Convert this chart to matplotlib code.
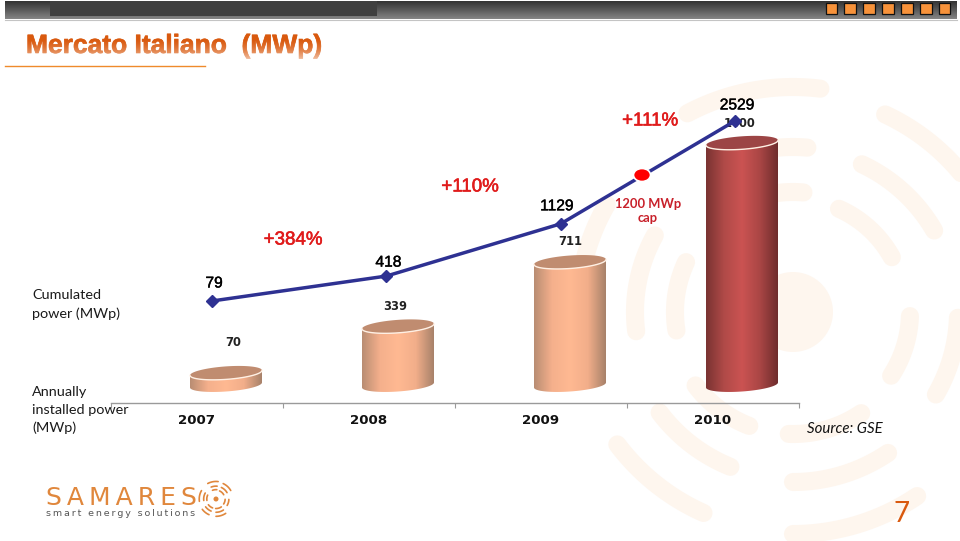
import numpy as np
import matplotlib
matplotlib.use("Agg")
import matplotlib.pyplot as plt
import matplotlib.patheffects as pe
from matplotlib.colors import LinearSegmentedColormap
from matplotlib.patches import Ellipse, PathPatch, Rectangle
from matplotlib.path import Path

years = ["2007", "2008", "2009", "2010"]
annual = [70, 339, 711, 1400]
cumulated = [79, 418, 1129, 2529]
growth = ["+384%", "+110%", "+111%"]
cap_label = "1200 MWp\ncap"

W, H = 960, 541
ORANGE = "#d9590e"
WATERMARK = "#fef6ee"
PEACH = ["#b98d73", "#f5b08c", "#ffb992", "#f2ae8a", "#a8826a"]
RED = ["#7a3332", "#b04a48", "#cb5352", "#aa4645", "#6f2d2d"]
PEACH_CAP = "#c08c70"
RED_CAP = "#9c4545"

# watermark arcs: radius, start and end angle, around the logo centre
wm_arcs = [
    (120, 85, 112), (165, 85, 112), (225, 83, 118),
    (113, 29, 66), (163, 30, 65), (218, 30, 65),
    (117, -33, -2), (165, -30, -2),
    (122, -92, -56), (170, -90, -56), (222, -90, -56),
    (122, -143, -111), (167, -143, -112), (220, -143, -114),
    (118, 155, 189), (158, 151, 187), (215, 150, 188),
]


def box(left, top, right, bottom):
    return [left / W, 1 - bottom / H, (right - left) / W, (bottom - top) / H]


def px_axes(zorder):
    a = fig.add_axes([0, 0, 1, 1], zorder=zorder)
    a.set_xlim(0, W)
    a.set_ylim(H, 0)
    a.axis("off")
    return a


def draw_arcs(a, cx, cy, scale, color, lw):
    for r, t0, t1 in wm_arcs:
        t = np.radians(np.linspace(t0, t1, 40))
        a.plot(cx + scale * r * np.cos(t), cy - scale * r * np.sin(t),
               color=color, lw=lw, solid_capstyle="round", clip_on=True)


def cylinder(a, cx, h, colors, cap):
    rx, ry, tilt = 36 / 172, 6.5 / 0.173, 2.5 / 0.173
    t = np.linspace(np.pi, 2 * np.pi, 60)
    low_x = cx + rx * np.cos(t)
    low_y = ry * np.sin(t) + tilt * np.cos(t)
    xs = np.r_[low_x, low_x[::-1]]
    ys = np.r_[low_y, h + low_y[::-1]]
    outline = Path(np.c_[xs, ys])
    clip = PathPatch(outline, fc="none", ec="none", transform=a.transData)
    a.add_patch(clip)
    cmap = LinearSegmentedColormap.from_list("c", colors)
    im = a.imshow(np.linspace(0, 1, 200)[None, :], cmap=cmap, aspect="auto",
                  extent=[cx - rx, cx + rx, -60, h + 60], zorder=2)
    im.set_clip_path(clip)
    # top face
    t = np.linspace(0, 2 * np.pi, 120)
    top = np.c_[cx + rx * np.cos(t), h + ry * np.sin(t) + tilt * np.cos(t)]
    a.add_patch(plt.Polygon(top, fc=cap, ec="none", zorder=3))
    a.plot(low_x, h + low_y, color="#fff0e4", lw=1.0, zorder=4)


fig = plt.figure(figsize=(W / 100, H / 100), dpi=100, facecolor="white")

# background watermark and slide furniture
bg = px_axes(0)
draw_arcs(bg, 793, 312, 1, WATERMARK, 13)
bg.add_patch(Ellipse((793, 312), 80, 80, fc=WATERMARK, ec="none"))
bar_grad = LinearSegmentedColormap.from_list("b", ["#333333", "#5a5a5a", "#858585"])
bg.imshow(np.linspace(0, 1, 50)[:, None], cmap=bar_grad, aspect="auto",
          extent=[5, 957, 19, 1])
bg.plot([5, 957], [19.5, 19.5], color="#c4c4c4", lw=0.8)
bg.add_patch(Rectangle((50, 1), 327, 15, fc="#3f3f3f", ec="none"))
for i in range(7):
    bg.add_patch(Rectangle((825.5 + 18.9 * i, 2.8), 11.5, 11.5, fc="#f7923a", ec="#111111", lw=0.9))
bg.set_xlim(0, W)
bg.set_ylim(H, 0)
bg.plot([5, 205], [66, 66], color="#ef8a2c", lw=1.0)

# annual installed power: cylinders
ax = fig.add_axes(box(111, 100, 799, 403), zorder=1)
ax.patch.set_alpha(0)
for i, v in enumerate(annual):
    if i == 3:
        cylinder(ax, i + 29 / 172, v, RED, RED_CAP)
    else:
        cylinder(ax, i + 29 / 172, v, PEACH, PEACH_CAP)
ax.set_xlim(-0.5, 3.5)
ax.set_ylim(-18 / 0.173, 285 / 0.173)
for s in ["top", "left", "right"]:
    ax.spines[s].set_visible(False)
ax.spines["bottom"].set_color("#9a9a9a")
ax.spines["bottom"].set_linewidth(1.0)
ax.set_yticks([])
ax.set_xticks(np.arange(-0.5, 4))
ax.set_xticklabels([])
ax.tick_params(axis="x", which="major", length=3.5, color="#9a9a9a", width=0.8)
ax.set_xticks(range(4), minor=True)
ax.set_xticklabels(years, minor=True, family="DejaVu Sans", weight="bold", fontsize=9.6, color="#111111")
ax.tick_params(axis="x", which="minor", length=0, pad=8)
annual_off = [(7, 30), (-3, 20), (0, 20), (-2, 19)]
for i, v in enumerate(annual):
    ax.annotate(str(v), (i + 29 / 172, v), xytext=annual_off[i], textcoords="offset pixels",
                ha="center", va="center", family="DejaVu Sans", weight="bold",
                fontsize=8.3, color="#222222", zorder=5)

# cumulated power: line
ax2 = fig.add_axes(box(212, 60, 735, 306.8), zorder=2)
ax2.patch.set_alpha(0)
ax2.plot(range(4), cumulated, color="#2e3192", lw=2.5, marker="D", ms=6.0, clip_on=False)
ax2.set_xlim(0, 3)
ax2.set_ylim(0, 246.8 / 0.0735)
ax2.axis("off")
cum_off = [(2, 18), (2, 14), (-4, 18), (2, 16)]
for i, v in enumerate(cumulated):
    ax2.annotate(str(v), (i, v), xytext=cum_off[i], textcoords="offset pixels", ha="center", va="center",
                 family="Liberation Sans", fontsize=11.2, color="black",
                 path_effects=[pe.withStroke(linewidth=0.3, foreground="black")])

# text and annotation layer
fg = px_axes(3)
fg.add_patch(Ellipse((642, 175), 17, 13, fc="#ff0000", ec="white", lw=1.2, zorder=5))
fg.text(648, 211, cap_label, color="#c8202a", fontsize=9.3, family="Lato", weight="bold",
        ha="center", va="center", linespacing=1.3)
pct_x = [293, 470, 650]
pct_y = [240, 187, 121]
for x, y, s in zip(pct_x, pct_y, growth):
    fg.text(x, y, s, color="#e01b1b", fontsize=13.5, family="Liberation Sans", ha="center", va="center",
            path_effects=[pe.withStroke(linewidth=0.4, foreground="#e01b1b")])

fg.text(32, 304.5, "Cumulated\npower (MWp)", fontsize=10.4, family="Lato", color="#1a1a1a",
        va="center", linespacing=1.55)
fg.text(32, 410, "Annually\ninstalled power\n(MWp)", fontsize=10.4, family="Lato", color="#1a1a1a",
        va="center", linespacing=1.55)
fg.text(807, 429, "Source: GSE", fontsize=10.8, family="Lato", style="italic", color="#111111", va="center")
fg.text(902, 514, "7", fontsize=20, family="Lato", color=ORANGE, ha="center", va="center")

fg.text(26, 46, "Mercato Italiano  (MWp)", fontsize=19, family="Liberation Sans", weight="bold",
        color=ORANGE, va="center", path_effects=[pe.withStroke(linewidth=0.5, foreground=ORANGE)])
# lighter lower edge on the title letters
fade = np.ones((40, 1, 4))
fade[:, 0, 3] = np.linspace(0, 0.75, 40) ** 1.6
fg.imshow(fade, aspect="auto", extent=[22, 330, 60, 38], zorder=6)

# logo
fg.text(46, 498, "\u2009".join("SAMARES"), fontsize=18, family="DejaVu Sans", color="#e0873c", va="center")
fg.text(46, 513, "\u2009".join("smart energy solutions"), fontsize=6.8, family="DejaVu Sans",
        color="#555555", va="center")
draw_arcs(fg, 216, 499, 0.078, "#e0873c", 1.2)
fg.add_patch(Ellipse((216, 499), 5, 5, fc="#e0873c", ec="none"))
fg.set_xlim(0, W)
fg.set_ylim(H, 0)

fig.savefig("out.png", dpi=100)
